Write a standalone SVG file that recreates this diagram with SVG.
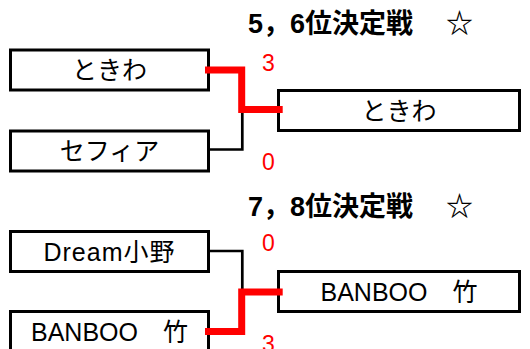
<svg xmlns="http://www.w3.org/2000/svg" width="530" height="349" viewBox="0 0 530 349">
<style>
.box{fill:#fff;stroke:#000;stroke-width:3}
.lbl{font-family:"Liberation Sans","Noto Sans CJK JP",sans-serif;font-size:25px;fill:#000;text-anchor:middle}
.ttl{font-family:"Liberation Sans","Noto Sans CJK JP",sans-serif;font-size:27px;font-weight:bold;fill:#000}
.star{font-family:"Noto Sans CJK JP",sans-serif;font-size:27px;font-weight:bold;fill:#000}
.score{font-family:"Liberation Sans",sans-serif;font-size:23px;fill:#ff0000}
.win{fill:none;stroke:#ff0000;stroke-width:7;stroke-linejoin:miter}
.lose{fill:none;stroke:#000;stroke-width:2.7}
</style>
<rect width="530" height="349" fill="#fff"/>
<text class="ttl" x="248" y="33">5，6位決定戦</text>
<text class="star" x="446" y="33">☆</text>
<text class="ttl" x="248" y="216">7，8位決定戦</text>
<text class="star" x="446" y="216">☆</text>
<g id="n1"><rect class="box" x="10.5" y="50" width="198" height="40"/><text class="lbl" x="109.5" y="79">ときわ</text></g>
<g id="n2"><rect class="box" x="10.5" y="131" width="198" height="40"/><text class="lbl" x="109.5" y="160">セフィア</text></g>
<g id="n3"><rect class="box" x="278.5" y="90.5" width="241" height="40"/><text class="lbl" x="399" y="119.5">ときわ</text></g>
<g id="n4"><rect class="box" x="10.5" y="231.5" width="198" height="40"/><text class="lbl" x="109.5" y="260.5" letter-spacing="1">Dream小野</text></g>
<g id="n5"><rect class="box" x="10.5" y="311.5" width="198" height="40"/><text class="lbl" x="109.5" y="340.5">BANBOO　竹</text></g>
<g id="n6"><rect class="box" x="278.5" y="271.5" width="241" height="40"/><text class="lbl" x="399" y="300.5">BANBOO　竹</text></g>
<g id="connectors">
<path class="lose" d="M208.5,149.5 H242.3 V110"/>
<path class="win" d="M205,70 H241.7 V109.5 H282.7"/>
<path class="lose" d="M208.5,251 H242.3 V292"/>
<path class="win" d="M205,331.5 H241.7 V292 H282.7"/>
</g>
<g id="scores">
<text class="score" x="262" y="70.5">3</text>
<text class="score" x="262" y="169.5">0</text>
<text class="score" x="262" y="250.5">0</text>
<text class="score" x="262" y="351.5">3</text>
</g>
</svg>
